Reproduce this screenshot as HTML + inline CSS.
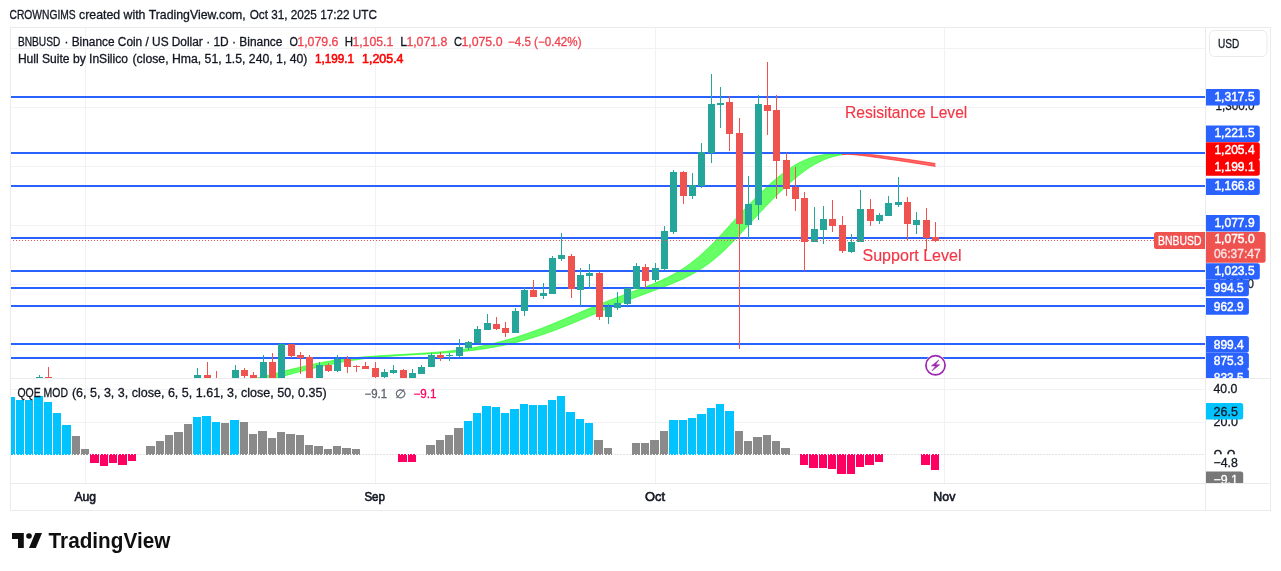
<!DOCTYPE html>
<html><head><meta charset="utf-8">
<style>
html,body{margin:0;padding:0;background:#fff;width:1281px;height:571px;overflow:hidden;}
svg{position:absolute;left:0;top:0;display:block;will-change:transform;}
</style></head><body>
<svg width="1281" height="571" viewBox="0 0 1281 571">
<line x1="85.5" y1="27" x2="85.5" y2="483" stroke="#f2f2f4" stroke-width="1"/>
<defs><clipPath id="pa"><rect x="1206" y="28" width="65" height="350"/></clipPath><clipPath id="pb"><rect x="1206" y="379" width="65" height="104"/></clipPath></defs>
<line x1="375.5" y1="27" x2="375.5" y2="483" stroke="#f2f2f4" stroke-width="1"/>
<line x1="655.5" y1="27" x2="655.5" y2="483" stroke="#f2f2f4" stroke-width="1"/>
<line x1="944.5" y1="27" x2="944.5" y2="483" stroke="#f2f2f4" stroke-width="1"/>
<line x1="10" y1="48.5" x2="1205" y2="48.5" stroke="#f2f2f4" stroke-width="1"/>
<line x1="10" y1="107.5" x2="1205" y2="107.5" stroke="#f2f2f4" stroke-width="1"/>
<line x1="10" y1="166.5" x2="1205" y2="166.5" stroke="#f2f2f4" stroke-width="1"/>
<line x1="10" y1="225.5" x2="1205" y2="225.5" stroke="#f2f2f4" stroke-width="1"/>
<line x1="10" y1="284.5" x2="1205" y2="284.5" stroke="#f2f2f4" stroke-width="1"/>
<line x1="10" y1="343.5" x2="1205" y2="343.5" stroke="#f2f2f4" stroke-width="1"/>
<line x1="10" y1="389.5" x2="1205" y2="389.5" stroke="#f2f2f4" stroke-width="1"/>
<line x1="10" y1="422.5" x2="1205" y2="422.5" stroke="#f2f2f4" stroke-width="1"/>
<defs><clipPath id="mp"><rect x="10" y="27" width="1195" height="351"/></clipPath><clipPath id="qp"><rect x="10" y="379" width="1195" height="104"/></clipPath></defs>
<g clip-path="url(#mp)"><polygon points="250.0,379.93 251.0,379.67 252.0,379.41 253.0,379.15 254.0,378.89 255.0,378.63 256.0,378.37 257.0,378.11 258.0,377.85 259.0,377.59 260.0,377.33 261.0,377.07 262.0,376.81 263.0,376.55 264.0,376.29 265.0,376.03 266.0,375.77 267.0,375.51 268.0,375.25 269.0,374.99 270.0,374.73 271.0,374.47 272.0,374.21 273.0,373.95 274.0,373.70 275.0,373.44 276.0,373.18 277.0,372.92 278.0,372.66 279.0,372.40 280.0,372.14 281.0,371.89 282.0,371.63 283.0,371.37 284.0,371.12 285.0,370.86 286.0,370.61 287.0,370.36 288.0,370.11 289.0,369.85 290.0,369.60 291.0,369.35 292.0,369.11 293.0,368.86 294.0,368.61 295.0,368.37 296.0,368.12 297.0,367.88 298.0,367.64 299.0,367.40 300.0,367.16 301.0,366.93 302.0,366.69 303.0,366.46 304.0,366.23 305.0,366.00 306.0,365.77 307.0,365.55 308.0,365.32 309.0,365.10 310.0,364.88 311.0,364.67 312.0,364.45 313.0,364.24 314.0,364.03 315.0,363.82 316.0,363.61 317.0,363.41 318.0,363.21 319.0,363.01 320.0,362.81 321.0,362.62 322.0,362.43 323.0,362.24 324.0,362.05 325.0,361.87 326.0,361.69 327.0,361.51 328.0,361.34 329.0,361.17 330.0,361.00 331.0,360.83 332.0,360.67 333.0,360.51 334.0,360.35 335.0,360.20 336.0,360.05 337.0,359.90 338.0,359.75 339.0,359.61 340.0,359.47 341.0,359.33 342.0,359.20 343.0,359.07 344.0,358.94 345.0,358.81 346.0,358.69 347.0,358.56 348.0,358.44 349.0,358.33 350.0,358.21 351.0,358.10 352.0,357.99 353.0,357.89 354.0,357.78 355.0,357.68 356.0,357.58 357.0,357.48 358.0,357.39 359.0,357.29 360.0,357.20 361.0,357.11 362.0,357.02 363.0,356.94 364.0,356.85 365.0,356.77 366.0,356.69 367.0,356.61 368.0,356.53 369.0,356.45 370.0,356.38 371.0,356.30 372.0,356.23 373.0,356.16 374.0,356.09 375.0,356.02 376.0,355.95 377.0,355.89 378.0,355.82 379.0,355.75 380.0,355.69 381.0,355.63 382.0,355.56 383.0,355.50 384.0,355.44 385.0,355.38 386.0,355.32 387.0,355.26 388.0,355.20 389.0,355.14 390.0,355.08 391.0,355.03 392.0,354.97 393.0,354.91 394.0,354.85 395.0,354.80 396.0,354.74 397.0,354.68 398.0,354.63 399.0,354.57 400.0,354.51 401.0,354.46 402.0,354.40 403.0,354.34 404.0,354.29 405.0,354.23 406.0,354.18 407.0,354.12 408.0,354.06 409.0,354.00 410.0,353.95 411.0,353.89 412.0,353.83 413.0,353.77 414.0,353.71 415.0,353.65 416.0,353.59 417.0,353.53 418.0,353.47 419.0,353.41 420.0,353.35 421.0,353.28 422.0,353.22 423.0,353.15 424.0,353.09 425.0,353.02 426.0,352.95 427.0,352.89 428.0,352.82 429.0,352.74 430.0,352.67 431.0,352.60 432.0,352.53 433.0,352.45 434.0,352.37 435.0,352.29 436.0,352.21 437.0,352.13 438.0,352.05 439.0,351.96 440.0,351.88 441.0,351.79 442.0,351.70 443.0,351.60 444.0,351.51 445.0,351.41 446.0,351.31 447.0,351.21 448.0,351.11 449.0,351.00 450.0,350.89 451.0,350.78 452.0,350.67 453.0,350.55 454.0,350.43 455.0,350.31 456.0,350.19 457.0,350.06 458.0,349.93 459.0,349.80 460.0,349.66 461.0,349.52 462.0,349.38 463.0,349.24 464.0,349.09 465.0,348.94 466.0,348.79 467.0,348.63 468.0,348.47 469.0,348.31 470.0,348.15 471.0,347.98 472.0,347.81 473.0,347.63 474.0,347.46 475.0,347.27 476.0,347.09 477.0,346.90 478.0,346.71 479.0,346.52 480.0,346.32 481.0,346.12 482.0,345.92 483.0,345.72 484.0,345.51 485.0,345.30 486.0,345.08 487.0,344.86 488.0,344.64 489.0,344.42 490.0,344.19 491.0,343.96 492.0,343.72 493.0,343.49 494.0,343.25 495.0,343.00 496.0,342.76 497.0,342.51 498.0,342.25 499.0,342.00 500.0,341.74 501.0,341.48 502.0,341.21 503.0,340.94 504.0,340.67 505.0,340.40 506.0,340.12 507.0,339.84 508.0,339.55 509.0,339.27 510.0,338.98 511.0,338.68 512.0,338.39 513.0,338.09 514.0,337.78 515.0,337.48 516.0,337.17 517.0,336.85 518.0,336.54 519.0,336.22 520.0,335.90 521.0,335.57 522.0,335.24 523.0,334.91 524.0,334.58 525.0,334.24 526.0,333.90 527.0,333.56 528.0,333.21 529.0,332.86 530.0,332.51 531.0,332.15 532.0,331.79 533.0,331.43 534.0,331.07 535.0,330.70 536.0,330.33 537.0,329.96 538.0,329.58 539.0,329.21 540.0,328.83 541.0,328.44 542.0,328.06 543.0,327.67 544.0,327.28 545.0,326.88 546.0,326.49 547.0,326.09 548.0,325.69 549.0,325.29 550.0,324.89 551.0,324.48 552.0,324.07 553.0,323.66 554.0,323.25 555.0,322.84 556.0,322.43 557.0,322.01 558.0,321.59 559.0,321.17 560.0,320.76 561.0,320.33 562.0,319.91 563.0,319.49 564.0,319.07 565.0,318.65 566.0,318.22 567.0,317.80 568.0,317.37 569.0,316.95 570.0,316.52 571.0,316.10 572.0,315.68 573.0,315.25 574.0,314.83 575.0,314.40 576.0,313.98 577.0,313.56 578.0,313.13 579.0,312.71 580.0,312.29 581.0,311.87 582.0,311.45 583.0,311.03 584.0,310.62 585.0,310.20 586.0,309.78 587.0,309.37 588.0,308.96 589.0,308.54 590.0,308.13 591.0,307.72 592.0,307.31 593.0,306.90 594.0,306.50 595.0,306.09 596.0,305.69 597.0,305.28 598.0,304.88 599.0,304.48 600.0,304.08 601.0,303.68 602.0,303.28 603.0,302.89 604.0,302.49 605.0,302.10 606.0,301.70 607.0,301.31 608.0,300.92 609.0,300.53 610.0,300.14 611.0,299.76 612.0,299.37 613.0,298.98 614.0,298.60 615.0,298.22 616.0,297.83 617.0,297.45 618.0,297.07 619.0,296.69 620.0,296.32 621.0,295.94 622.0,295.56 623.0,295.19 624.0,294.81 625.0,294.44 626.0,294.06 627.0,293.69 628.0,293.32 629.0,292.95 630.0,292.58 631.0,292.20 632.0,291.83 633.0,291.46 634.0,291.09 635.0,290.72 636.0,290.35 637.0,289.98 638.0,289.61 639.0,289.24 640.0,288.87 641.0,288.49 642.0,288.12 643.0,287.74 644.0,287.37 645.0,286.99 646.0,286.60 647.0,286.22 648.0,285.83 649.0,285.45 650.0,285.05 651.0,284.66 652.0,284.26 653.0,283.86 654.0,283.45 655.0,283.04 656.0,282.62 657.0,282.20 658.0,281.77 659.0,281.34 660.0,280.90 661.0,280.46 662.0,280.01 663.0,279.55 664.0,279.08 665.0,278.61 666.0,278.13 667.0,277.64 668.0,277.14 669.0,276.63 670.0,276.12 671.0,275.60 672.0,275.06 673.0,274.52 674.0,273.97 675.0,273.41 676.0,272.83 677.0,272.25 678.0,271.66 679.0,271.05 680.0,270.44 681.0,269.81 682.0,269.17 683.0,268.52 684.0,267.86 685.0,267.19 686.0,266.50 687.0,265.80 688.0,265.09 689.0,264.37 690.0,263.63 691.0,262.89 692.0,262.12 693.0,261.35 694.0,260.56 695.0,259.76 696.0,258.94 697.0,258.11 698.0,257.27 699.0,256.42 700.0,255.55 701.0,254.67 702.0,253.78 703.0,252.87 704.0,251.95 705.0,251.02 706.0,250.08 707.0,249.12 708.0,248.15 709.0,247.18 710.0,246.19 711.0,245.19 712.0,244.18 713.0,243.16 714.0,242.14 715.0,241.10 716.0,240.06 717.0,239.01 718.0,237.95 719.0,236.89 720.0,235.82 721.0,234.75 722.0,233.67 723.0,232.59 724.0,231.50 725.0,230.41 726.0,229.32 727.0,228.23 728.0,227.13 729.0,226.04 730.0,224.94 731.0,223.85 732.0,222.75 733.0,221.66 734.0,220.56 735.0,219.47 736.0,218.39 737.0,217.30 738.0,216.22 739.0,215.14 740.0,214.06 741.0,212.98 742.0,211.91 743.0,210.85 744.0,209.78 745.0,208.72 746.0,207.67 747.0,206.62 748.0,205.57 749.0,204.53 750.0,203.50 751.0,202.47 752.0,201.45 753.0,200.43 754.0,199.41 755.0,198.40 756.0,197.40 757.0,196.40 758.0,195.41 759.0,194.42 760.0,193.44 761.0,192.47 762.0,191.50 763.0,190.54 764.0,189.58 765.0,188.63 766.0,187.69 767.0,186.76 768.0,185.83 769.0,184.92 770.0,184.01 771.0,183.11 772.0,182.22 773.0,181.34 774.0,180.47 775.0,179.61 776.0,178.76 777.0,177.92 778.0,177.10 779.0,176.28 780.0,175.48 781.0,174.69 782.0,173.91 783.0,173.14 784.0,172.39 785.0,171.65 786.0,170.93 787.0,170.21 788.0,169.52 789.0,168.84 790.0,168.17 791.0,167.52 792.0,166.88 793.0,166.26 794.0,165.65 795.0,165.06 796.0,164.48 797.0,163.92 798.0,163.37 799.0,162.84 800.0,162.33 801.0,161.83 802.0,161.35 803.0,160.88 804.0,160.43 805.0,160.00 806.0,159.58 807.0,159.18 808.0,158.79 809.0,158.42 810.0,158.06 811.0,157.72 812.0,157.40 813.0,157.09 814.0,156.79 815.0,156.51 816.0,156.25 817.0,156.00 818.0,155.77 819.0,155.55 820.0,155.35 821.0,155.15 822.0,154.98 823.0,154.81 824.0,154.67 825.0,154.53 826.0,154.40 827.0,154.29 828.0,154.19 829.0,154.11 830.0,154.03 831.0,153.96 832.0,153.91 833.0,153.87 834.0,153.84 835.0,153.81 836.0,153.80 837.0,153.79 838.0,153.80 839.0,153.81 840.0,153.83 841.0,153.86 842.0,153.89 842.0,154.76 841.0,154.92 840.0,155.10 839.0,155.28 838.0,155.48 837.0,155.70 836.0,155.93 835.0,156.17 834.0,156.43 833.0,156.70 832.0,156.99 831.0,157.30 830.0,157.61 829.0,157.95 828.0,158.30 827.0,158.67 826.0,159.05 825.0,159.45 824.0,159.86 823.0,160.29 822.0,160.74 821.0,161.20 820.0,161.67 819.0,162.17 818.0,162.68 817.0,163.20 816.0,163.74 815.0,164.30 814.0,164.87 813.0,165.45 812.0,166.06 811.0,166.67 810.0,167.31 809.0,167.95 808.0,168.62 807.0,169.29 806.0,169.99 805.0,170.69 804.0,171.41 803.0,172.15 802.0,172.90 801.0,173.66 800.0,174.43 799.0,175.22 798.0,176.02 797.0,176.83 796.0,177.65 795.0,178.49 794.0,179.33 793.0,180.19 792.0,181.06 791.0,181.93 790.0,182.82 789.0,183.72 788.0,184.62 787.0,185.53 786.0,186.46 785.0,187.39 784.0,188.32 783.0,189.27 782.0,190.22 781.0,191.18 780.0,192.15 779.0,193.12 778.0,194.10 777.0,195.09 776.0,196.08 775.0,197.07 774.0,198.08 773.0,199.08 772.0,200.10 771.0,201.11 770.0,202.14 769.0,203.16 768.0,204.20 767.0,205.24 766.0,206.28 765.0,207.33 764.0,208.38 763.0,209.44 762.0,210.50 761.0,211.57 760.0,212.64 759.0,213.71 758.0,214.78 757.0,215.86 756.0,216.95 755.0,218.03 754.0,219.12 753.0,220.21 752.0,221.30 751.0,222.39 750.0,223.49 749.0,224.58 748.0,225.68 747.0,226.78 746.0,227.87 745.0,228.97 744.0,230.06 743.0,231.15 742.0,232.24 741.0,233.32 740.0,234.40 739.0,235.47 738.0,236.54 737.0,237.61 736.0,238.67 735.0,239.72 734.0,240.76 733.0,241.80 732.0,242.83 731.0,243.85 730.0,244.86 729.0,245.86 728.0,246.86 727.0,247.84 726.0,248.81 725.0,249.77 724.0,250.72 723.0,251.65 722.0,252.57 721.0,253.48 720.0,254.38 719.0,255.27 718.0,256.14 717.0,257.00 716.0,257.84 715.0,258.67 714.0,259.49 713.0,260.30 712.0,261.09 711.0,261.87 710.0,262.64 709.0,263.39 708.0,264.13 707.0,264.86 706.0,265.58 705.0,266.28 704.0,266.97 703.0,267.64 702.0,268.31 701.0,268.96 700.0,269.60 699.0,270.23 698.0,270.85 697.0,271.46 696.0,272.06 695.0,272.64 694.0,273.22 693.0,273.79 692.0,274.34 691.0,274.89 690.0,275.42 689.0,275.95 688.0,276.47 687.0,276.98 686.0,277.48 685.0,277.97 684.0,278.45 683.0,278.93 682.0,279.40 681.0,279.86 680.0,280.31 679.0,280.76 678.0,281.20 677.0,281.63 676.0,282.06 675.0,282.49 674.0,282.90 673.0,283.32 672.0,283.73 671.0,284.13 670.0,284.53 669.0,284.93 668.0,285.32 667.0,285.71 666.0,286.10 665.0,286.48 664.0,286.86 663.0,287.24 662.0,287.62 661.0,288.00 660.0,288.37 659.0,288.75 658.0,289.12 657.0,289.49 656.0,289.86 655.0,290.23 654.0,290.60 653.0,290.97 652.0,291.34 651.0,291.71 650.0,292.08 649.0,292.46 648.0,292.83 647.0,293.20 646.0,293.57 645.0,293.94 644.0,294.32 643.0,294.69 642.0,295.06 641.0,295.44 640.0,295.82 639.0,296.19 638.0,296.57 637.0,296.95 636.0,297.33 635.0,297.71 634.0,298.09 633.0,298.48 632.0,298.86 631.0,299.24 630.0,299.63 629.0,300.02 628.0,300.41 627.0,300.79 626.0,301.18 625.0,301.58 624.0,301.97 623.0,302.36 622.0,302.76 621.0,303.15 620.0,303.55 619.0,303.95 618.0,304.35 617.0,304.75 616.0,305.15 615.0,305.56 614.0,305.96 613.0,306.36 612.0,306.77 611.0,307.18 610.0,307.59 609.0,308.00 608.0,308.41 607.0,308.82 606.0,309.24 605.0,309.65 604.0,310.06 603.0,310.48 602.0,310.90 601.0,311.32 600.0,311.74 599.0,312.16 598.0,312.58 597.0,313.00 596.0,313.42 595.0,313.84 594.0,314.27 593.0,314.69 592.0,315.11 591.0,315.54 590.0,315.96 589.0,316.39 588.0,316.81 587.0,317.24 586.0,317.66 585.0,318.08 584.0,318.51 583.0,318.93 582.0,319.35 581.0,319.78 580.0,320.20 579.0,320.62 578.0,321.04 577.0,321.46 576.0,321.87 575.0,322.29 574.0,322.70 573.0,323.12 572.0,323.53 571.0,323.94 570.0,324.35 569.0,324.75 568.0,325.16 567.0,325.56 566.0,325.96 565.0,326.36 564.0,326.76 563.0,327.15 562.0,327.54 561.0,327.93 560.0,328.32 559.0,328.70 558.0,329.08 557.0,329.46 556.0,329.84 555.0,330.21 554.0,330.58 553.0,330.95 552.0,331.32 551.0,331.68 550.0,332.04 549.0,332.39 548.0,332.75 547.0,333.10 546.0,333.44 545.0,333.79 544.0,334.13 543.0,334.47 542.0,334.80 541.0,335.14 540.0,335.47 539.0,335.79 538.0,336.12 537.0,336.44 536.0,336.75 535.0,337.07 534.0,337.38 533.0,337.68 532.0,337.99 531.0,338.29 530.0,338.59 529.0,338.88 528.0,339.17 527.0,339.46 526.0,339.75 525.0,340.03 524.0,340.31 523.0,340.58 522.0,340.86 521.0,341.12 520.0,341.39 519.0,341.65 518.0,341.91 517.0,342.17 516.0,342.42 515.0,342.68 514.0,342.92 513.0,343.17 512.0,343.41 511.0,343.65 510.0,343.88 509.0,344.11 508.0,344.34 507.0,344.57 506.0,344.79 505.0,345.01 504.0,345.23 503.0,345.44 502.0,345.65 501.0,345.86 500.0,346.06 499.0,346.26 498.0,346.46 497.0,346.65 496.0,346.84 495.0,347.03 494.0,347.22 493.0,347.40 492.0,347.58 491.0,347.75 490.0,347.92 489.0,348.09 488.0,348.26 487.0,348.42 486.0,348.58 485.0,348.74 484.0,348.89 483.0,349.04 482.0,349.19 481.0,349.34 480.0,349.48 479.0,349.62 478.0,349.75 477.0,349.89 476.0,350.02 475.0,350.14 474.0,350.27 473.0,350.39 472.0,350.51 471.0,350.63 470.0,350.74 469.0,350.86 468.0,350.96 467.0,351.07 466.0,351.18 465.0,351.28 464.0,351.38 463.0,351.48 462.0,351.57 461.0,351.67 460.0,351.76 459.0,351.85 458.0,351.93 457.0,352.02 456.0,352.10 455.0,352.19 454.0,352.27 453.0,352.35 452.0,352.42 451.0,352.50 450.0,352.58 449.0,352.65 448.0,352.72 447.0,352.79 446.0,352.86 445.0,352.93 444.0,353.00 443.0,353.07 442.0,353.13 441.0,353.20 440.0,353.26 439.0,353.32 438.0,353.39 437.0,353.45 436.0,353.51 435.0,353.57 434.0,353.63 433.0,353.69 432.0,353.75 431.0,353.81 430.0,353.87 429.0,353.93 428.0,353.98 427.0,354.04 426.0,354.10 425.0,354.16 424.0,354.21 423.0,354.27 422.0,354.33 421.0,354.38 420.0,354.44 419.0,354.50 418.0,354.55 417.0,354.61 416.0,354.66 415.0,354.72 414.0,354.78 413.0,354.83 412.0,354.89 411.0,354.95 410.0,355.01 409.0,355.06 408.0,355.12 407.0,355.18 406.0,355.24 405.0,355.30 404.0,355.36 403.0,355.42 402.0,355.48 401.0,355.54 400.0,355.61 399.0,355.67 398.0,355.73 397.0,355.80 396.0,355.86 395.0,355.93 394.0,356.00 393.0,356.07 392.0,356.14 391.0,356.21 390.0,356.28 389.0,356.35 388.0,356.43 387.0,356.51 386.0,356.58 385.0,356.66 384.0,356.74 383.0,356.83 382.0,356.91 381.0,356.99 380.0,357.08 379.0,357.17 378.0,357.26 377.0,357.36 376.0,357.45 375.0,357.55 374.0,357.65 373.0,357.75 372.0,357.85 371.0,357.96 370.0,358.07 369.0,358.18 368.0,358.29 367.0,358.41 366.0,358.52 365.0,358.65 364.0,358.77 363.0,358.89 362.0,359.02 361.0,359.15 360.0,359.29 359.0,359.43 358.0,359.56 357.0,359.71 356.0,359.85 355.0,360.00 354.0,360.15 353.0,360.30 352.0,360.46 351.0,360.62 350.0,360.78 349.0,360.95 348.0,361.11 347.0,361.28 346.0,361.46 345.0,361.63 344.0,361.81 343.0,361.99 342.0,362.18 341.0,362.37 340.0,362.56 339.0,362.75 338.0,362.94 337.0,363.14 336.0,363.34 335.0,363.55 334.0,363.75 333.0,363.96 332.0,364.17 331.0,364.38 330.0,364.60 329.0,364.81 328.0,365.03 327.0,365.25 326.0,365.47 325.0,365.70 324.0,365.93 323.0,366.15 322.0,366.38 321.0,366.62 320.0,366.85 319.0,367.09 318.0,367.32 317.0,367.56 316.0,367.80 315.0,368.04 314.0,368.29 313.0,368.53 312.0,368.78 311.0,369.02 310.0,369.27 309.0,369.52 308.0,369.77 307.0,370.02 306.0,370.28 305.0,370.53 304.0,370.78 303.0,371.04 302.0,371.29 301.0,371.55 300.0,371.80 299.0,372.06 298.0,372.32 297.0,372.58 296.0,372.83 295.0,373.09 294.0,373.35 293.0,373.61 292.0,373.87 291.0,374.13 290.0,374.39 289.0,374.65 288.0,374.91 287.0,375.17 286.0,375.43 285.0,375.69 284.0,375.95 283.0,376.21 282.0,376.47 281.0,376.73 280.0,376.99 279.0,377.25 278.0,377.51 277.0,377.77 276.0,378.03 275.0,378.29 274.0,378.55 273.0,378.81 272.0,379.07 271.0,379.33 270.0,379.58 269.0,379.84 268.0,380.10 267.0,380.36 266.0,380.62 265.0,380.88 264.0,381.14 263.0,381.40 262.0,381.66 261.0,381.92 260.0,382.18 259.0,382.44 258.0,382.70 257.0,382.96 256.0,383.22 255.0,383.48 254.0,383.74 253.0,383.99 252.0,384.25 251.0,384.51 250.0,384.77" fill="#66ff66"/><polygon points="842.0,154.76 843.0,154.62 844.0,154.49 845.0,154.37 846.0,154.26 847.0,154.16 848.0,154.08 849.0,154.01 850.0,153.95 851.0,153.90 852.0,153.86 853.0,153.83 854.0,153.81 855.0,153.80 856.0,153.79 857.0,153.80 858.0,153.82 859.0,153.84 860.0,153.87 861.0,153.91 862.0,153.95 863.0,154.00 864.0,154.05 865.0,154.11 866.0,154.18 867.0,154.25 868.0,154.32 869.0,154.41 870.0,154.49 871.0,154.58 872.0,154.67 873.0,154.77 874.0,154.87 875.0,154.97 876.0,155.08 877.0,155.19 878.0,155.30 879.0,155.41 880.0,155.53 881.0,155.65 882.0,155.77 883.0,155.89 884.0,156.02 885.0,156.14 886.0,156.27 887.0,156.40 888.0,156.53 889.0,156.67 890.0,156.80 891.0,156.93 892.0,157.07 893.0,157.21 894.0,157.34 895.0,157.48 896.0,157.62 897.0,157.76 898.0,157.90 899.0,158.04 900.0,158.19 901.0,158.33 902.0,158.47 903.0,158.61 904.0,158.76 905.0,158.90 906.0,159.04 907.0,159.19 908.0,159.33 909.0,159.48 910.0,159.62 911.0,159.77 912.0,159.91 913.0,160.06 914.0,160.21 915.0,160.35 916.0,160.50 917.0,160.65 918.0,160.80 919.0,160.95 920.0,161.10 921.0,161.25 922.0,161.40 923.0,161.55 924.0,161.70 925.0,161.85 926.0,162.00 927.0,162.15 928.0,162.31 929.0,162.46 930.0,162.62 931.0,162.77 932.0,162.93 933.0,163.08 934.0,163.24 935.0,163.40 935.4,163.46 935.4,166.49 935.0,166.42 934.0,166.26 933.0,166.09 932.0,165.93 931.0,165.76 930.0,165.60 929.0,165.44 928.0,165.27 927.0,165.11 926.0,164.95 925.0,164.79 924.0,164.62 923.0,164.46 922.0,164.30 921.0,164.14 920.0,163.98 919.0,163.82 918.0,163.66 917.0,163.50 916.0,163.35 915.0,163.19 914.0,163.03 913.0,162.88 912.0,162.72 911.0,162.57 910.0,162.41 909.0,162.26 908.0,162.10 907.0,161.95 906.0,161.80 905.0,161.65 904.0,161.50 903.0,161.35 902.0,161.20 901.0,161.05 900.0,160.90 899.0,160.75 898.0,160.60 897.0,160.45 896.0,160.31 895.0,160.16 894.0,160.01 893.0,159.87 892.0,159.72 891.0,159.58 890.0,159.43 889.0,159.29 888.0,159.14 887.0,159.00 886.0,158.85 885.0,158.71 884.0,158.57 883.0,158.42 882.0,158.28 881.0,158.14 880.0,158.00 879.0,157.86 878.0,157.72 877.0,157.58 876.0,157.44 875.0,157.30 874.0,157.16 873.0,157.03 872.0,156.89 871.0,156.76 870.0,156.62 869.0,156.49 868.0,156.36 867.0,156.23 866.0,156.10 865.0,155.98 864.0,155.85 863.0,155.73 862.0,155.61 861.0,155.49 860.0,155.37 859.0,155.26 858.0,155.15 857.0,155.04 856.0,154.94 855.0,154.83 854.0,154.74 853.0,154.64 852.0,154.55 851.0,154.46 850.0,154.38 849.0,154.30 848.0,154.23 847.0,154.16 846.0,154.09 845.0,154.03 844.0,153.98 843.0,153.93 842.0,153.89" fill="#ff6666"/><polyline points="250.0,379.93 251.0,379.67 252.0,379.41 253.0,379.15 254.0,378.89 255.0,378.63 256.0,378.37 257.0,378.11 258.0,377.85 259.0,377.59 260.0,377.33 261.0,377.07 262.0,376.81 263.0,376.55 264.0,376.29 265.0,376.03 266.0,375.77 267.0,375.51 268.0,375.25 269.0,374.99 270.0,374.73 271.0,374.47 272.0,374.21 273.0,373.95 274.0,373.70 275.0,373.44 276.0,373.18 277.0,372.92 278.0,372.66 279.0,372.40 280.0,372.14 281.0,371.89 282.0,371.63 283.0,371.37 284.0,371.12 285.0,370.86 286.0,370.61 287.0,370.36 288.0,370.11 289.0,369.85 290.0,369.60 291.0,369.35 292.0,369.11 293.0,368.86 294.0,368.61 295.0,368.37 296.0,368.12 297.0,367.88 298.0,367.64 299.0,367.40 300.0,367.16 301.0,366.93 302.0,366.69 303.0,366.46 304.0,366.23 305.0,366.00 306.0,365.77 307.0,365.55 308.0,365.32 309.0,365.10 310.0,364.88 311.0,364.67 312.0,364.45 313.0,364.24 314.0,364.03 315.0,363.82 316.0,363.61 317.0,363.41 318.0,363.21 319.0,363.01 320.0,362.81 321.0,362.62 322.0,362.43 323.0,362.24 324.0,362.05 325.0,361.87 326.0,361.69 327.0,361.51 328.0,361.34 329.0,361.17 330.0,361.00 331.0,360.83 332.0,360.67 333.0,360.51 334.0,360.35 335.0,360.20 336.0,360.05 337.0,359.90 338.0,359.75 339.0,359.61 340.0,359.47 341.0,359.33 342.0,359.20 343.0,359.07 344.0,358.94 345.0,358.81 346.0,358.69 347.0,358.56 348.0,358.44 349.0,358.33 350.0,358.21 351.0,358.10 352.0,357.99 353.0,357.89 354.0,357.78 355.0,357.68 356.0,357.58 357.0,357.48 358.0,357.39 359.0,357.29 360.0,357.20 361.0,357.11 362.0,357.02 363.0,356.94 364.0,356.85 365.0,356.77 366.0,356.69 367.0,356.61 368.0,356.53 369.0,356.45 370.0,356.38 371.0,356.30 372.0,356.23 373.0,356.16 374.0,356.09 375.0,356.02 376.0,355.95 377.0,355.89 378.0,355.82 379.0,355.75 380.0,355.69 381.0,355.63 382.0,355.56 383.0,355.50 384.0,355.44 385.0,355.38 386.0,355.32 387.0,355.26 388.0,355.20 389.0,355.14 390.0,355.08 391.0,355.03 392.0,354.97 393.0,354.91 394.0,354.85 395.0,354.80 396.0,354.74 397.0,354.68 398.0,354.63 399.0,354.57 400.0,354.51 401.0,354.46 402.0,354.40 403.0,354.34 404.0,354.29 405.0,354.23 406.0,354.18 407.0,354.12 408.0,354.06 409.0,354.00 410.0,353.95 411.0,353.89 412.0,353.83 413.0,353.77 414.0,353.71 415.0,353.65 416.0,353.59 417.0,353.53 418.0,353.47 419.0,353.41 420.0,353.35 421.0,353.28 422.0,353.22 423.0,353.15 424.0,353.09 425.0,353.02 426.0,352.95 427.0,352.89 428.0,352.82 429.0,352.74 430.0,352.67 431.0,352.60 432.0,352.53 433.0,352.45 434.0,352.37 435.0,352.29 436.0,352.21 437.0,352.13 438.0,352.05 439.0,351.96 440.0,351.88 441.0,351.79 442.0,351.70 443.0,351.60 444.0,351.51 445.0,351.41 446.0,351.31 447.0,351.21 448.0,351.11 449.0,351.00 450.0,350.89 451.0,350.78 452.0,350.67 453.0,350.55 454.0,350.43 455.0,350.31 456.0,350.19 457.0,350.06 458.0,349.93 459.0,349.80 460.0,349.66 461.0,349.52 462.0,349.38 463.0,349.24 464.0,349.09 465.0,348.94 466.0,348.79 467.0,348.63 468.0,348.47 469.0,348.31 470.0,348.15 471.0,347.98 472.0,347.81 473.0,347.63 474.0,347.46 475.0,347.27 476.0,347.09 477.0,346.90 478.0,346.71 479.0,346.52 480.0,346.32 481.0,346.12 482.0,345.92 483.0,345.72 484.0,345.51 485.0,345.30 486.0,345.08 487.0,344.86 488.0,344.64 489.0,344.42 490.0,344.19 491.0,343.96 492.0,343.72 493.0,343.49 494.0,343.25 495.0,343.00 496.0,342.76 497.0,342.51 498.0,342.25 499.0,342.00 500.0,341.74 501.0,341.48 502.0,341.21 503.0,340.94 504.0,340.67 505.0,340.40 506.0,340.12 507.0,339.84 508.0,339.55 509.0,339.27 510.0,338.98 511.0,338.68 512.0,338.39 513.0,338.09 514.0,337.78 515.0,337.48 516.0,337.17 517.0,336.85 518.0,336.54 519.0,336.22 520.0,335.90 521.0,335.57 522.0,335.24 523.0,334.91 524.0,334.58 525.0,334.24 526.0,333.90 527.0,333.56 528.0,333.21 529.0,332.86 530.0,332.51 531.0,332.15 532.0,331.79 533.0,331.43 534.0,331.07 535.0,330.70 536.0,330.33 537.0,329.96 538.0,329.58 539.0,329.21 540.0,328.83 541.0,328.44 542.0,328.06 543.0,327.67 544.0,327.28 545.0,326.88 546.0,326.49 547.0,326.09 548.0,325.69 549.0,325.29 550.0,324.89 551.0,324.48 552.0,324.07 553.0,323.66 554.0,323.25 555.0,322.84 556.0,322.43 557.0,322.01 558.0,321.59 559.0,321.17 560.0,320.76 561.0,320.33 562.0,319.91 563.0,319.49 564.0,319.07 565.0,318.65 566.0,318.22 567.0,317.80 568.0,317.37 569.0,316.95 570.0,316.52 571.0,316.10 572.0,315.68 573.0,315.25 574.0,314.83 575.0,314.40 576.0,313.98 577.0,313.56 578.0,313.13 579.0,312.71 580.0,312.29 581.0,311.87 582.0,311.45 583.0,311.03 584.0,310.62 585.0,310.20 586.0,309.78 587.0,309.37 588.0,308.96 589.0,308.54 590.0,308.13 591.0,307.72 592.0,307.31 593.0,306.90 594.0,306.50 595.0,306.09 596.0,305.69 597.0,305.28 598.0,304.88 599.0,304.48 600.0,304.08 601.0,303.68 602.0,303.28 603.0,302.89 604.0,302.49 605.0,302.10 606.0,301.70 607.0,301.31 608.0,300.92 609.0,300.53 610.0,300.14 611.0,299.76 612.0,299.37 613.0,298.98 614.0,298.60 615.0,298.22 616.0,297.83 617.0,297.45 618.0,297.07 619.0,296.69 620.0,296.32 621.0,295.94 622.0,295.56 623.0,295.19 624.0,294.81 625.0,294.44 626.0,294.06 627.0,293.69 628.0,293.32 629.0,292.95 630.0,292.58 631.0,292.20 632.0,291.83 633.0,291.46 634.0,291.09 635.0,290.72 636.0,290.35 637.0,289.98 638.0,289.61 639.0,289.24 640.0,288.87 641.0,288.49 642.0,288.12 643.0,287.74 644.0,287.37 645.0,286.99 646.0,286.60 647.0,286.22 648.0,285.83 649.0,285.45 650.0,285.05 651.0,284.66 652.0,284.26 653.0,283.86 654.0,283.45 655.0,283.04 656.0,282.62 657.0,282.20 658.0,281.77 659.0,281.34 660.0,280.90 661.0,280.46 662.0,280.01 663.0,279.55 664.0,279.08 665.0,278.61 666.0,278.13 667.0,277.64 668.0,277.14 669.0,276.63 670.0,276.12 671.0,275.60 672.0,275.06 673.0,274.52 674.0,273.97 675.0,273.41 676.0,272.83 677.0,272.25 678.0,271.66 679.0,271.05 680.0,270.44 681.0,269.81 682.0,269.17 683.0,268.52 684.0,267.86 685.0,267.19 686.0,266.50 687.0,265.80 688.0,265.09 689.0,264.37 690.0,263.63 691.0,262.89 692.0,262.12 693.0,261.35 694.0,260.56 695.0,259.76 696.0,258.94 697.0,258.11 698.0,257.27 699.0,256.42 700.0,255.55 701.0,254.67 702.0,253.78 703.0,252.87 704.0,251.95 705.0,251.02 706.0,250.08 707.0,249.12 708.0,248.15 709.0,247.18 710.0,246.19 711.0,245.19 712.0,244.18 713.0,243.16 714.0,242.14 715.0,241.10 716.0,240.06 717.0,239.01 718.0,237.95 719.0,236.89 720.0,235.82 721.0,234.75 722.0,233.67 723.0,232.59 724.0,231.50 725.0,230.41 726.0,229.32 727.0,228.23 728.0,227.13 729.0,226.04 730.0,224.94 731.0,223.85 732.0,222.75 733.0,221.66 734.0,220.56 735.0,219.47 736.0,218.39 737.0,217.30 738.0,216.22 739.0,215.14 740.0,214.06 741.0,212.98 742.0,211.91 743.0,210.85 744.0,209.78 745.0,208.72 746.0,207.67 747.0,206.62 748.0,205.57 749.0,204.53 750.0,203.50 751.0,202.47 752.0,201.45 753.0,200.43 754.0,199.41 755.0,198.40 756.0,197.40 757.0,196.40 758.0,195.41 759.0,194.42 760.0,193.44 761.0,192.47 762.0,191.50 763.0,190.54 764.0,189.58 765.0,188.63 766.0,187.69 767.0,186.76 768.0,185.83 769.0,184.92 770.0,184.01 771.0,183.11 772.0,182.22 773.0,181.34 774.0,180.47 775.0,179.61 776.0,178.76 777.0,177.92 778.0,177.10 779.0,176.28 780.0,175.48 781.0,174.69 782.0,173.91 783.0,173.14 784.0,172.39 785.0,171.65 786.0,170.93 787.0,170.21 788.0,169.52 789.0,168.84 790.0,168.17 791.0,167.52 792.0,166.88 793.0,166.26 794.0,165.65 795.0,165.06 796.0,164.48 797.0,163.92 798.0,163.37 799.0,162.84 800.0,162.33 801.0,161.83 802.0,161.35 803.0,160.88 804.0,160.43 805.0,160.00 806.0,159.58 807.0,159.18 808.0,158.79 809.0,158.42 810.0,158.06 811.0,157.72 812.0,157.40 813.0,157.09 814.0,156.79 815.0,156.51 816.0,156.25 817.0,156.00 818.0,155.77 819.0,155.55 820.0,155.35 821.0,155.15 822.0,154.98 823.0,154.81 824.0,154.67 825.0,154.53 826.0,154.40 827.0,154.29 828.0,154.19 829.0,154.11 830.0,154.03 831.0,153.96 832.0,153.91 833.0,153.87 834.0,153.84 835.0,153.81 836.0,153.80 837.0,153.79 838.0,153.80 839.0,153.81 840.0,153.83 841.0,153.86 842.0,153.89" fill="none" stroke="#00ff00" stroke-width="1" stroke-opacity="0.5"/><polyline points="250.0,384.77 251.0,384.51 252.0,384.25 253.0,383.99 254.0,383.74 255.0,383.48 256.0,383.22 257.0,382.96 258.0,382.70 259.0,382.44 260.0,382.18 261.0,381.92 262.0,381.66 263.0,381.40 264.0,381.14 265.0,380.88 266.0,380.62 267.0,380.36 268.0,380.10 269.0,379.84 270.0,379.58 271.0,379.33 272.0,379.07 273.0,378.81 274.0,378.55 275.0,378.29 276.0,378.03 277.0,377.77 278.0,377.51 279.0,377.25 280.0,376.99 281.0,376.73 282.0,376.47 283.0,376.21 284.0,375.95 285.0,375.69 286.0,375.43 287.0,375.17 288.0,374.91 289.0,374.65 290.0,374.39 291.0,374.13 292.0,373.87 293.0,373.61 294.0,373.35 295.0,373.09 296.0,372.83 297.0,372.58 298.0,372.32 299.0,372.06 300.0,371.80 301.0,371.55 302.0,371.29 303.0,371.04 304.0,370.78 305.0,370.53 306.0,370.28 307.0,370.02 308.0,369.77 309.0,369.52 310.0,369.27 311.0,369.02 312.0,368.78 313.0,368.53 314.0,368.29 315.0,368.04 316.0,367.80 317.0,367.56 318.0,367.32 319.0,367.09 320.0,366.85 321.0,366.62 322.0,366.38 323.0,366.15 324.0,365.93 325.0,365.70 326.0,365.47 327.0,365.25 328.0,365.03 329.0,364.81 330.0,364.60 331.0,364.38 332.0,364.17 333.0,363.96 334.0,363.75 335.0,363.55 336.0,363.34 337.0,363.14 338.0,362.94 339.0,362.75 340.0,362.56 341.0,362.37 342.0,362.18 343.0,361.99 344.0,361.81 345.0,361.63 346.0,361.46 347.0,361.28 348.0,361.11 349.0,360.95 350.0,360.78 351.0,360.62 352.0,360.46 353.0,360.30 354.0,360.15 355.0,360.00 356.0,359.85 357.0,359.71 358.0,359.56 359.0,359.43 360.0,359.29 361.0,359.15 362.0,359.02 363.0,358.89 364.0,358.77 365.0,358.65 366.0,358.52 367.0,358.41 368.0,358.29 369.0,358.18 370.0,358.07 371.0,357.96 372.0,357.85 373.0,357.75 374.0,357.65 375.0,357.55 376.0,357.45 377.0,357.36 378.0,357.26 379.0,357.17 380.0,357.08 381.0,356.99 382.0,356.91 383.0,356.83 384.0,356.74 385.0,356.66 386.0,356.58 387.0,356.51 388.0,356.43 389.0,356.35 390.0,356.28 391.0,356.21 392.0,356.14 393.0,356.07 394.0,356.00 395.0,355.93 396.0,355.86 397.0,355.80 398.0,355.73 399.0,355.67 400.0,355.61 401.0,355.54 402.0,355.48 403.0,355.42 404.0,355.36 405.0,355.30 406.0,355.24 407.0,355.18 408.0,355.12 409.0,355.06 410.0,355.01 411.0,354.95 412.0,354.89 413.0,354.83 414.0,354.78 415.0,354.72 416.0,354.66 417.0,354.61 418.0,354.55 419.0,354.50 420.0,354.44 421.0,354.38 422.0,354.33 423.0,354.27 424.0,354.21 425.0,354.16 426.0,354.10 427.0,354.04 428.0,353.98 429.0,353.93 430.0,353.87 431.0,353.81 432.0,353.75 433.0,353.69 434.0,353.63 435.0,353.57 436.0,353.51 437.0,353.45 438.0,353.39 439.0,353.32 440.0,353.26 441.0,353.20 442.0,353.13 443.0,353.07 444.0,353.00 445.0,352.93 446.0,352.86 447.0,352.79 448.0,352.72 449.0,352.65 450.0,352.58 451.0,352.50 452.0,352.42 453.0,352.35 454.0,352.27 455.0,352.19 456.0,352.10 457.0,352.02 458.0,351.93 459.0,351.85 460.0,351.76 461.0,351.67 462.0,351.57 463.0,351.48 464.0,351.38 465.0,351.28 466.0,351.18 467.0,351.07 468.0,350.96 469.0,350.86 470.0,350.74 471.0,350.63 472.0,350.51 473.0,350.39 474.0,350.27 475.0,350.14 476.0,350.02 477.0,349.89 478.0,349.75 479.0,349.62 480.0,349.48 481.0,349.34 482.0,349.19 483.0,349.04 484.0,348.89 485.0,348.74 486.0,348.58 487.0,348.42 488.0,348.26 489.0,348.09 490.0,347.92 491.0,347.75 492.0,347.58 493.0,347.40 494.0,347.22 495.0,347.03 496.0,346.84 497.0,346.65 498.0,346.46 499.0,346.26 500.0,346.06 501.0,345.86 502.0,345.65 503.0,345.44 504.0,345.23 505.0,345.01 506.0,344.79 507.0,344.57 508.0,344.34 509.0,344.11 510.0,343.88 511.0,343.65 512.0,343.41 513.0,343.17 514.0,342.92 515.0,342.68 516.0,342.42 517.0,342.17 518.0,341.91 519.0,341.65 520.0,341.39 521.0,341.12 522.0,340.86 523.0,340.58 524.0,340.31 525.0,340.03 526.0,339.75 527.0,339.46 528.0,339.17 529.0,338.88 530.0,338.59 531.0,338.29 532.0,337.99 533.0,337.68 534.0,337.38 535.0,337.07 536.0,336.75 537.0,336.44 538.0,336.12 539.0,335.79 540.0,335.47 541.0,335.14 542.0,334.80 543.0,334.47 544.0,334.13 545.0,333.79 546.0,333.44 547.0,333.10 548.0,332.75 549.0,332.39 550.0,332.04 551.0,331.68 552.0,331.32 553.0,330.95 554.0,330.58 555.0,330.21 556.0,329.84 557.0,329.46 558.0,329.08 559.0,328.70 560.0,328.32 561.0,327.93 562.0,327.54 563.0,327.15 564.0,326.76 565.0,326.36 566.0,325.96 567.0,325.56 568.0,325.16 569.0,324.75 570.0,324.35 571.0,323.94 572.0,323.53 573.0,323.12 574.0,322.70 575.0,322.29 576.0,321.87 577.0,321.46 578.0,321.04 579.0,320.62 580.0,320.20 581.0,319.78 582.0,319.35 583.0,318.93 584.0,318.51 585.0,318.08 586.0,317.66 587.0,317.24 588.0,316.81 589.0,316.39 590.0,315.96 591.0,315.54 592.0,315.11 593.0,314.69 594.0,314.27 595.0,313.84 596.0,313.42 597.0,313.00 598.0,312.58 599.0,312.16 600.0,311.74 601.0,311.32 602.0,310.90 603.0,310.48 604.0,310.06 605.0,309.65 606.0,309.24 607.0,308.82 608.0,308.41 609.0,308.00 610.0,307.59 611.0,307.18 612.0,306.77 613.0,306.36 614.0,305.96 615.0,305.56 616.0,305.15 617.0,304.75 618.0,304.35 619.0,303.95 620.0,303.55 621.0,303.15 622.0,302.76 623.0,302.36 624.0,301.97 625.0,301.58 626.0,301.18 627.0,300.79 628.0,300.41 629.0,300.02 630.0,299.63 631.0,299.24 632.0,298.86 633.0,298.48 634.0,298.09 635.0,297.71 636.0,297.33 637.0,296.95 638.0,296.57 639.0,296.19 640.0,295.82 641.0,295.44 642.0,295.06 643.0,294.69 644.0,294.32 645.0,293.94 646.0,293.57 647.0,293.20 648.0,292.83 649.0,292.46 650.0,292.08 651.0,291.71 652.0,291.34 653.0,290.97 654.0,290.60 655.0,290.23 656.0,289.86 657.0,289.49 658.0,289.12 659.0,288.75 660.0,288.37 661.0,288.00 662.0,287.62 663.0,287.24 664.0,286.86 665.0,286.48 666.0,286.10 667.0,285.71 668.0,285.32 669.0,284.93 670.0,284.53 671.0,284.13 672.0,283.73 673.0,283.32 674.0,282.90 675.0,282.49 676.0,282.06 677.0,281.63 678.0,281.20 679.0,280.76 680.0,280.31 681.0,279.86 682.0,279.40 683.0,278.93 684.0,278.45 685.0,277.97 686.0,277.48 687.0,276.98 688.0,276.47 689.0,275.95 690.0,275.42 691.0,274.89 692.0,274.34 693.0,273.79 694.0,273.22 695.0,272.64 696.0,272.06 697.0,271.46 698.0,270.85 699.0,270.23 700.0,269.60 701.0,268.96 702.0,268.31 703.0,267.64 704.0,266.97 705.0,266.28 706.0,265.58 707.0,264.86 708.0,264.13 709.0,263.39 710.0,262.64 711.0,261.87 712.0,261.09 713.0,260.30 714.0,259.49 715.0,258.67 716.0,257.84 717.0,257.00 718.0,256.14 719.0,255.27 720.0,254.38 721.0,253.48 722.0,252.57 723.0,251.65 724.0,250.72 725.0,249.77 726.0,248.81 727.0,247.84 728.0,246.86 729.0,245.86 730.0,244.86 731.0,243.85 732.0,242.83 733.0,241.80 734.0,240.76 735.0,239.72 736.0,238.67 737.0,237.61 738.0,236.54 739.0,235.47 740.0,234.40 741.0,233.32 742.0,232.24 743.0,231.15 744.0,230.06 745.0,228.97 746.0,227.87 747.0,226.78 748.0,225.68 749.0,224.58 750.0,223.49 751.0,222.39 752.0,221.30 753.0,220.21 754.0,219.12 755.0,218.03 756.0,216.95 757.0,215.86 758.0,214.78 759.0,213.71 760.0,212.64 761.0,211.57 762.0,210.50 763.0,209.44 764.0,208.38 765.0,207.33 766.0,206.28 767.0,205.24 768.0,204.20 769.0,203.16 770.0,202.14 771.0,201.11 772.0,200.10 773.0,199.08 774.0,198.08 775.0,197.07 776.0,196.08 777.0,195.09 778.0,194.10 779.0,193.12 780.0,192.15 781.0,191.18 782.0,190.22 783.0,189.27 784.0,188.32 785.0,187.39 786.0,186.46 787.0,185.53 788.0,184.62 789.0,183.72 790.0,182.82 791.0,181.93 792.0,181.06 793.0,180.19 794.0,179.33 795.0,178.49 796.0,177.65 797.0,176.83 798.0,176.02 799.0,175.22 800.0,174.43 801.0,173.66 802.0,172.90 803.0,172.15 804.0,171.41 805.0,170.69 806.0,169.99 807.0,169.29 808.0,168.62 809.0,167.95 810.0,167.31 811.0,166.67 812.0,166.06 813.0,165.45 814.0,164.87 815.0,164.30 816.0,163.74 817.0,163.20 818.0,162.68 819.0,162.17 820.0,161.67 821.0,161.20 822.0,160.74 823.0,160.29 824.0,159.86 825.0,159.45 826.0,159.05 827.0,158.67 828.0,158.30 829.0,157.95 830.0,157.61 831.0,157.30 832.0,156.99 833.0,156.70 834.0,156.43 835.0,156.17 836.0,155.93 837.0,155.70 838.0,155.48 839.0,155.28 840.0,155.10 841.0,154.92 842.0,154.76" fill="none" stroke="#00ff00" stroke-width="1" stroke-opacity="0.5"/><polyline points="842.0,153.89 843.0,153.93 844.0,153.98 845.0,154.03 846.0,154.09 847.0,154.16 848.0,154.23 849.0,154.30 850.0,154.38 851.0,154.46 852.0,154.55 853.0,154.64 854.0,154.74 855.0,154.83 856.0,154.94 857.0,155.04 858.0,155.15 859.0,155.26 860.0,155.37 861.0,155.49 862.0,155.61 863.0,155.73 864.0,155.85 865.0,155.98 866.0,156.10 867.0,156.23 868.0,156.36 869.0,156.49 870.0,156.62 871.0,156.76 872.0,156.89 873.0,157.03 874.0,157.16 875.0,157.30 876.0,157.44 877.0,157.58 878.0,157.72 879.0,157.86 880.0,158.00 881.0,158.14 882.0,158.28 883.0,158.42 884.0,158.57 885.0,158.71 886.0,158.85 887.0,159.00 888.0,159.14 889.0,159.29 890.0,159.43 891.0,159.58 892.0,159.72 893.0,159.87 894.0,160.01 895.0,160.16 896.0,160.31 897.0,160.45 898.0,160.60 899.0,160.75 900.0,160.90 901.0,161.05 902.0,161.20 903.0,161.35 904.0,161.50 905.0,161.65 906.0,161.80 907.0,161.95 908.0,162.10 909.0,162.26 910.0,162.41 911.0,162.57 912.0,162.72 913.0,162.88 914.0,163.03 915.0,163.19 916.0,163.35 917.0,163.50 918.0,163.66 919.0,163.82 920.0,163.98 921.0,164.14 922.0,164.30 923.0,164.46 924.0,164.62 925.0,164.79 926.0,164.95 927.0,165.11 928.0,165.27 929.0,165.44 930.0,165.60 931.0,165.76 932.0,165.93 933.0,166.09 934.0,166.26 935.0,166.42 935.4,166.49" fill="none" stroke="#ff0000" stroke-width="1" stroke-opacity="0.5"/><polyline points="842.0,154.76 843.0,154.62 844.0,154.49 845.0,154.37 846.0,154.26 847.0,154.16 848.0,154.08 849.0,154.01 850.0,153.95 851.0,153.90 852.0,153.86 853.0,153.83 854.0,153.81 855.0,153.80 856.0,153.79 857.0,153.80 858.0,153.82 859.0,153.84 860.0,153.87 861.0,153.91 862.0,153.95 863.0,154.00 864.0,154.05 865.0,154.11 866.0,154.18 867.0,154.25 868.0,154.32 869.0,154.41 870.0,154.49 871.0,154.58 872.0,154.67 873.0,154.77 874.0,154.87 875.0,154.97 876.0,155.08 877.0,155.19 878.0,155.30 879.0,155.41 880.0,155.53 881.0,155.65 882.0,155.77 883.0,155.89 884.0,156.02 885.0,156.14 886.0,156.27 887.0,156.40 888.0,156.53 889.0,156.67 890.0,156.80 891.0,156.93 892.0,157.07 893.0,157.21 894.0,157.34 895.0,157.48 896.0,157.62 897.0,157.76 898.0,157.90 899.0,158.04 900.0,158.19 901.0,158.33 902.0,158.47 903.0,158.61 904.0,158.76 905.0,158.90 906.0,159.04 907.0,159.19 908.0,159.33 909.0,159.48 910.0,159.62 911.0,159.77 912.0,159.91 913.0,160.06 914.0,160.21 915.0,160.35 916.0,160.50 917.0,160.65 918.0,160.80 919.0,160.95 920.0,161.10 921.0,161.25 922.0,161.40 923.0,161.55 924.0,161.70 925.0,161.85 926.0,162.00 927.0,162.15 928.0,162.31 929.0,162.46 930.0,162.62 931.0,162.77 932.0,162.93 933.0,163.08 934.0,163.24 935.0,163.40 935.4,163.46" fill="none" stroke="#ff0000" stroke-width="1" stroke-opacity="0.5"/><line x1="10" y1="97" x2="1205" y2="97" stroke="#2962ff" stroke-width="2"/><line x1="10" y1="153" x2="1205" y2="153" stroke="#2962ff" stroke-width="2"/><line x1="10" y1="186" x2="1205" y2="186" stroke="#2962ff" stroke-width="2"/><line x1="10" y1="238" x2="1205" y2="238" stroke="#2962ff" stroke-width="2"/><line x1="10" y1="271" x2="1205" y2="271" stroke="#2962ff" stroke-width="2"/><line x1="10" y1="288" x2="1205" y2="288" stroke="#2962ff" stroke-width="2"/><line x1="10" y1="306" x2="1205" y2="306" stroke="#2962ff" stroke-width="2"/><line x1="10" y1="344" x2="1205" y2="344" stroke="#2962ff" stroke-width="2"/><line x1="10" y1="358" x2="1205" y2="358" stroke="#2962ff" stroke-width="2"/><rect x="39" y="375" width="1" height="5" fill="#26a69a"/><rect x="36" y="377" width="7" height="3" fill="#26a69a"/><rect x="48" y="367" width="1" height="13" fill="#ef5350"/><rect x="45" y="377" width="7" height="3" fill="#ef5350"/><rect x="197" y="368" width="1" height="12" fill="#26a69a"/><rect x="194" y="375" width="7" height="5" fill="#26a69a"/><rect x="207" y="362" width="1" height="18" fill="#ef5350"/><rect x="204" y="375" width="7" height="5" fill="#ef5350"/><rect x="216" y="371" width="1" height="9" fill="#ef5350"/><rect x="213" y="380" width="7" height="1" fill="#ef5350"/><rect x="235" y="365" width="1" height="15" fill="#26a69a"/><rect x="232" y="370" width="7" height="10" fill="#26a69a"/><rect x="244" y="368" width="1" height="10" fill="#ef5350"/><rect x="241" y="370" width="7" height="6" fill="#ef5350"/><rect x="253" y="372" width="1" height="8" fill="#ef5350"/><rect x="250" y="375" width="7" height="5" fill="#ef5350"/><rect x="263" y="355" width="1" height="25" fill="#26a69a"/><rect x="260" y="362" width="7" height="18" fill="#26a69a"/><rect x="272" y="353" width="1" height="27" fill="#ef5350"/><rect x="269" y="362" width="7" height="18" fill="#ef5350"/><rect x="281" y="343" width="1" height="37" fill="#26a69a"/><rect x="278" y="344" width="7" height="36" fill="#26a69a"/><rect x="291" y="344" width="1" height="14" fill="#ef5350"/><rect x="288" y="344" width="7" height="12" fill="#ef5350"/><rect x="300" y="352" width="1" height="22" fill="#ef5350"/><rect x="297" y="355" width="7" height="3" fill="#ef5350"/><rect x="309" y="355" width="1" height="25" fill="#ef5350"/><rect x="306" y="357" width="7" height="23" fill="#ef5350"/><rect x="319" y="362" width="1" height="18" fill="#26a69a"/><rect x="316" y="365" width="7" height="15" fill="#26a69a"/><rect x="328" y="363" width="1" height="9" fill="#ef5350"/><rect x="325" y="365" width="7" height="6" fill="#ef5350"/><rect x="337" y="355" width="1" height="17" fill="#26a69a"/><rect x="334" y="359" width="7" height="12" fill="#26a69a"/><rect x="347" y="356" width="1" height="17" fill="#ef5350"/><rect x="344" y="359" width="7" height="8" fill="#ef5350"/><rect x="356" y="365" width="1" height="7" fill="#ef5350"/><rect x="353" y="366" width="7" height="1" fill="#ef5350"/><rect x="365" y="362" width="1" height="7" fill="#ef5350"/><rect x="362" y="366" width="7" height="3" fill="#ef5350"/><rect x="375" y="362" width="1" height="16" fill="#ef5350"/><rect x="372" y="368" width="7" height="9" fill="#ef5350"/><rect x="384" y="369" width="1" height="9" fill="#26a69a"/><rect x="381" y="372" width="7" height="5" fill="#26a69a"/><rect x="393" y="365" width="1" height="9" fill="#26a69a"/><rect x="390" y="370" width="7" height="3" fill="#26a69a"/><rect x="403" y="369" width="1" height="9" fill="#ef5350"/><rect x="400" y="370" width="7" height="8" fill="#ef5350"/><rect x="412" y="369" width="1" height="9" fill="#26a69a"/><rect x="409" y="373" width="7" height="5" fill="#26a69a"/><rect x="421" y="365" width="1" height="9" fill="#26a69a"/><rect x="418" y="367" width="7" height="7" fill="#26a69a"/><rect x="431" y="353" width="1" height="14" fill="#26a69a"/><rect x="428" y="355" width="7" height="12" fill="#26a69a"/><rect x="440" y="352" width="1" height="9" fill="#ef5350"/><rect x="437" y="355" width="7" height="3" fill="#ef5350"/><rect x="449" y="353" width="1" height="8" fill="#26a69a"/><rect x="446" y="355" width="7" height="1" fill="#26a69a"/><rect x="459" y="339" width="1" height="18" fill="#26a69a"/><rect x="456" y="347" width="7" height="9" fill="#26a69a"/><rect x="468" y="341" width="1" height="9" fill="#26a69a"/><rect x="465" y="342" width="7" height="6" fill="#26a69a"/><rect x="477" y="326" width="1" height="17" fill="#26a69a"/><rect x="474" y="329" width="7" height="14" fill="#26a69a"/><rect x="487" y="314" width="1" height="16" fill="#26a69a"/><rect x="484" y="323" width="7" height="7" fill="#26a69a"/><rect x="496" y="317" width="1" height="13" fill="#ef5350"/><rect x="493" y="324" width="7" height="5" fill="#ef5350"/><rect x="505" y="322" width="1" height="15" fill="#ef5350"/><rect x="502" y="328" width="7" height="5" fill="#ef5350"/><rect x="515" y="308" width="1" height="25" fill="#26a69a"/><rect x="512" y="311" width="7" height="22" fill="#26a69a"/><rect x="524" y="287" width="1" height="29" fill="#26a69a"/><rect x="521" y="290" width="7" height="21" fill="#26a69a"/><rect x="533" y="280" width="1" height="17" fill="#ef5350"/><rect x="530" y="290" width="7" height="7" fill="#ef5350"/><rect x="543" y="283" width="1" height="16" fill="#26a69a"/><rect x="540" y="293" width="7" height="3" fill="#26a69a"/><rect x="552" y="256" width="1" height="38" fill="#26a69a"/><rect x="549" y="258" width="7" height="36" fill="#26a69a"/><rect x="561" y="233" width="1" height="28" fill="#26a69a"/><rect x="558" y="255" width="7" height="4" fill="#26a69a"/><rect x="571" y="254" width="1" height="44" fill="#ef5350"/><rect x="568" y="256" width="7" height="33" fill="#ef5350"/><rect x="580" y="268" width="1" height="38" fill="#26a69a"/><rect x="577" y="275" width="7" height="15" fill="#26a69a"/><rect x="589" y="264" width="1" height="25" fill="#26a69a"/><rect x="586" y="273" width="7" height="3" fill="#26a69a"/><rect x="599" y="272" width="1" height="48" fill="#ef5350"/><rect x="596" y="273" width="7" height="44" fill="#ef5350"/><rect x="608" y="304" width="1" height="20" fill="#26a69a"/><rect x="605" y="307" width="7" height="10" fill="#26a69a"/><rect x="617" y="292" width="1" height="18" fill="#26a69a"/><rect x="614" y="303" width="7" height="5" fill="#26a69a"/><rect x="627" y="288" width="1" height="18" fill="#26a69a"/><rect x="624" y="288" width="7" height="16" fill="#26a69a"/><rect x="636" y="263" width="1" height="26" fill="#26a69a"/><rect x="633" y="266" width="7" height="23" fill="#26a69a"/><rect x="645" y="264" width="1" height="24" fill="#ef5350"/><rect x="642" y="267" width="7" height="14" fill="#ef5350"/><rect x="655" y="263" width="1" height="19" fill="#26a69a"/><rect x="652" y="268" width="7" height="12" fill="#26a69a"/><rect x="664" y="226" width="1" height="44" fill="#26a69a"/><rect x="661" y="231" width="7" height="38" fill="#26a69a"/><rect x="673" y="170" width="1" height="64" fill="#26a69a"/><rect x="670" y="172" width="7" height="60" fill="#26a69a"/><rect x="683" y="171" width="1" height="33" fill="#ef5350"/><rect x="680" y="172" width="7" height="24" fill="#ef5350"/><rect x="692" y="173" width="1" height="26" fill="#26a69a"/><rect x="689" y="185" width="7" height="11" fill="#26a69a"/><rect x="701" y="143" width="1" height="45" fill="#26a69a"/><rect x="698" y="152" width="7" height="34" fill="#26a69a"/><rect x="711" y="74" width="1" height="89" fill="#26a69a"/><rect x="708" y="104" width="7" height="49" fill="#26a69a"/><rect x="720" y="87" width="1" height="41" fill="#26a69a"/><rect x="717" y="103" width="7" height="2" fill="#26a69a"/><rect x="729" y="96" width="1" height="55" fill="#ef5350"/><rect x="726" y="102" width="7" height="32" fill="#ef5350"/><rect x="739" y="118" width="1" height="231" fill="#ef5350"/><rect x="736" y="133" width="7" height="91" fill="#ef5350"/><rect x="748" y="176" width="1" height="62" fill="#26a69a"/><rect x="745" y="204" width="7" height="21" fill="#26a69a"/><rect x="758" y="95" width="1" height="125" fill="#26a69a"/><rect x="755" y="104" width="7" height="101" fill="#26a69a"/><rect x="767" y="62" width="1" height="73" fill="#ef5350"/><rect x="764" y="105" width="7" height="6" fill="#ef5350"/><rect x="776" y="95" width="1" height="104" fill="#ef5350"/><rect x="773" y="110" width="7" height="51" fill="#ef5350"/><rect x="786" y="153" width="1" height="43" fill="#ef5350"/><rect x="783" y="160" width="7" height="29" fill="#ef5350"/><rect x="795" y="167" width="1" height="44" fill="#ef5350"/><rect x="792" y="187" width="7" height="12" fill="#ef5350"/><rect x="804" y="192" width="1" height="79" fill="#ef5350"/><rect x="801" y="198" width="7" height="44" fill="#ef5350"/><rect x="814" y="207" width="1" height="35" fill="#26a69a"/><rect x="811" y="229" width="7" height="13" fill="#26a69a"/><rect x="823" y="206" width="1" height="38" fill="#26a69a"/><rect x="820" y="219" width="7" height="11" fill="#26a69a"/><rect x="832" y="200" width="1" height="32" fill="#ef5350"/><rect x="829" y="219" width="7" height="7" fill="#ef5350"/><rect x="842" y="216" width="1" height="37" fill="#ef5350"/><rect x="839" y="225" width="7" height="26" fill="#ef5350"/><rect x="851" y="234" width="1" height="19" fill="#26a69a"/><rect x="848" y="242" width="7" height="10" fill="#26a69a"/><rect x="860" y="190" width="1" height="52" fill="#26a69a"/><rect x="857" y="209" width="7" height="33" fill="#26a69a"/><rect x="870" y="199" width="1" height="27" fill="#ef5350"/><rect x="867" y="209" width="7" height="12" fill="#ef5350"/><rect x="879" y="213" width="1" height="11" fill="#26a69a"/><rect x="876" y="215" width="7" height="6" fill="#26a69a"/><rect x="888" y="196" width="1" height="20" fill="#26a69a"/><rect x="885" y="203" width="7" height="13" fill="#26a69a"/><rect x="898" y="177" width="1" height="30" fill="#26a69a"/><rect x="895" y="202" width="7" height="3" fill="#26a69a"/><rect x="907" y="197" width="1" height="43" fill="#ef5350"/><rect x="904" y="202" width="7" height="22" fill="#ef5350"/><rect x="916" y="212" width="1" height="22" fill="#26a69a"/><rect x="913" y="220" width="7" height="5" fill="#26a69a"/><rect x="926" y="208" width="1" height="43" fill="#ef5350"/><rect x="923" y="220" width="7" height="18" fill="#ef5350"/><rect x="935" y="222" width="1" height="20" fill="#ef5350"/><rect x="932" y="237" width="7" height="4" fill="#ef5350"/></g>
<g clip-path="url(#qp)"><line x1="10" y1="454.5" x2="1205" y2="454.5" stroke="#e3e3e3" stroke-width="1" stroke-dasharray="2,1" stroke-dashoffset="2"/><rect x="6" y="397" width="9" height="58" fill="#00c3ff"/><rect x="16" y="400" width="8" height="55" fill="#00c3ff"/><rect x="25" y="400" width="8" height="55" fill="#00c3ff"/><rect x="34" y="396" width="9" height="59" fill="#00c3ff"/><rect x="44" y="402" width="8" height="53" fill="#00c3ff"/><rect x="53" y="413" width="8" height="42" fill="#00c3ff"/><rect x="62" y="425" width="9" height="30" fill="#00c3ff"/><rect x="72" y="436" width="8" height="19" fill="#8a8a8a"/><rect x="81" y="449" width="8" height="6" fill="#8a8a8a"/><rect x="90" y="454" width="9" height="9" fill="#ff0062"/><rect x="100" y="454" width="8" height="12" fill="#ff0062"/><rect x="109" y="454" width="8" height="9" fill="#ff0062"/><rect x="118" y="454" width="9" height="11" fill="#ff0062"/><rect x="128" y="454" width="8" height="7" fill="#ff0062"/><rect x="146" y="446" width="9" height="9" fill="#8a8a8a"/><rect x="156" y="441" width="8" height="14" fill="#8a8a8a"/><rect x="165" y="435" width="8" height="20" fill="#8a8a8a"/><rect x="174" y="432" width="9" height="23" fill="#8a8a8a"/><rect x="184" y="424" width="8" height="31" fill="#8a8a8a"/><rect x="193" y="417" width="8" height="38" fill="#00c3ff"/><rect x="202" y="416" width="9" height="39" fill="#00c3ff"/><rect x="212" y="422" width="8" height="33" fill="#00c3ff"/><rect x="221" y="423" width="8" height="32" fill="#8a8a8a"/><rect x="230" y="420" width="9" height="35" fill="#00c3ff"/><rect x="240" y="422" width="8" height="33" fill="#8a8a8a"/><rect x="249" y="434" width="8" height="21" fill="#8a8a8a"/><rect x="258" y="431" width="9" height="24" fill="#8a8a8a"/><rect x="268" y="438" width="8" height="17" fill="#8a8a8a"/><rect x="277" y="432" width="8" height="23" fill="#8a8a8a"/><rect x="286" y="434" width="9" height="21" fill="#8a8a8a"/><rect x="296" y="435" width="8" height="20" fill="#8a8a8a"/><rect x="305" y="445" width="8" height="10" fill="#8a8a8a"/><rect x="314" y="446" width="9" height="9" fill="#8a8a8a"/><rect x="324" y="449" width="8" height="6" fill="#8a8a8a"/><rect x="333" y="446" width="8" height="9" fill="#8a8a8a"/><rect x="342" y="448" width="9" height="7" fill="#8a8a8a"/><rect x="352" y="449" width="8" height="6" fill="#8a8a8a"/><rect x="398" y="454" width="9" height="8" fill="#ff0062"/><rect x="408" y="454" width="8" height="8" fill="#ff0062"/><rect x="426" y="445" width="9" height="10" fill="#8a8a8a"/><rect x="436" y="440" width="8" height="15" fill="#8a8a8a"/><rect x="445" y="435" width="8" height="20" fill="#8a8a8a"/><rect x="454" y="428" width="9" height="27" fill="#8a8a8a"/><rect x="464" y="421" width="8" height="34" fill="#00c3ff"/><rect x="473" y="413" width="8" height="42" fill="#00c3ff"/><rect x="482" y="406" width="9" height="49" fill="#00c3ff"/><rect x="492" y="407" width="8" height="48" fill="#00c3ff"/><rect x="501" y="413" width="8" height="42" fill="#00c3ff"/><rect x="510" y="409" width="9" height="46" fill="#00c3ff"/><rect x="520" y="404" width="8" height="51" fill="#00c3ff"/><rect x="529" y="405" width="8" height="50" fill="#00c3ff"/><rect x="538" y="405" width="9" height="50" fill="#00c3ff"/><rect x="548" y="400" width="8" height="55" fill="#00c3ff"/><rect x="557" y="396" width="8" height="59" fill="#00c3ff"/><rect x="566" y="412" width="9" height="43" fill="#00c3ff"/><rect x="576" y="419" width="8" height="36" fill="#00c3ff"/><rect x="585" y="423" width="8" height="32" fill="#00c3ff"/><rect x="594" y="440" width="9" height="15" fill="#8a8a8a"/><rect x="604" y="448" width="8" height="7" fill="#8a8a8a"/><rect x="632" y="443" width="8" height="12" fill="#8a8a8a"/><rect x="641" y="443" width="8" height="12" fill="#8a8a8a"/><rect x="650" y="440" width="9" height="15" fill="#8a8a8a"/><rect x="660" y="431" width="8" height="24" fill="#8a8a8a"/><rect x="669" y="420" width="9" height="35" fill="#00c3ff"/><rect x="679" y="420" width="8" height="35" fill="#00c3ff"/><rect x="688" y="418" width="8" height="37" fill="#00c3ff"/><rect x="697" y="414" width="9" height="41" fill="#00c3ff"/><rect x="707" y="408" width="8" height="47" fill="#00c3ff"/><rect x="716" y="404" width="8" height="51" fill="#00c3ff"/><rect x="725" y="411" width="9" height="44" fill="#00c3ff"/><rect x="735" y="431" width="8" height="24" fill="#8a8a8a"/><rect x="744" y="441" width="8" height="14" fill="#8a8a8a"/><rect x="753" y="437" width="9" height="18" fill="#8a8a8a"/><rect x="763" y="435" width="8" height="20" fill="#8a8a8a"/><rect x="772" y="441" width="8" height="14" fill="#8a8a8a"/><rect x="781" y="448" width="9" height="7" fill="#8a8a8a"/><rect x="800" y="454" width="8" height="11" fill="#ff0062"/><rect x="809" y="454" width="9" height="14" fill="#ff0062"/><rect x="819" y="454" width="8" height="14" fill="#ff0062"/><rect x="828" y="454" width="8" height="15" fill="#ff0062"/><rect x="837" y="454" width="9" height="20" fill="#ff0062"/><rect x="847" y="454" width="8" height="20" fill="#ff0062"/><rect x="856" y="454" width="8" height="13" fill="#ff0062"/><rect x="865" y="454" width="9" height="11" fill="#ff0062"/><rect x="875" y="454" width="8" height="8" fill="#ff0062"/><rect x="921" y="454" width="9" height="11" fill="#ff0062"/><rect x="931" y="454" width="8" height="16" fill="#ff0062"/><line x1="10" y1="454.5" x2="1205" y2="454.5" stroke="#ffffff" stroke-width="1" stroke-dasharray="1,2"/></g>
<line x1="10" y1="240.5" x2="1154" y2="240.5" stroke="#ef5350" stroke-width="1" stroke-dasharray="1,2"/>
<rect x="10.5" y="27.5" width="1260" height="483" fill="none" stroke="#ebebee" stroke-width="1"/>
<line x1="1205.5" y1="27" x2="1205.5" y2="511" stroke="#ebebee" stroke-width="1"/>
<line x1="10" y1="378.5" x2="1271" y2="378.5" stroke="#ebebee" stroke-width="1"/>
<line x1="10" y1="483.5" x2="1271" y2="483.5" stroke="#ebebee" stroke-width="1"/>
<circle cx="935.5" cy="365.3" r="10.8" fill="#fff"/>
<circle cx="935.5" cy="365.3" r="9.6" fill="#fff" stroke="#9c27b0" stroke-width="1.7"/>
<path d="M938.9,359.9 L931.4,365.9 L935.6,365.9 L932.1,370.8 L939.7,364.7 L935.5,364.7 Z" fill="#9c27b0" stroke="#9c27b0" stroke-width="0.6" stroke-linejoin="round"/>
<g clip-path="url(#pa)"><text x="1215.4" y="109.9" font-family="Liberation Sans, sans-serif" font-size="12.6" fill="#131722" font-weight="normal" stroke="#131722" stroke-width="0.3" textLength="39.2" lengthAdjust="spacingAndGlyphs">1,300.0</text><text x="1215.4" y="288.4" font-family="Liberation Sans, sans-serif" font-size="12.6" fill="#131722" font-weight="normal" stroke="#131722" stroke-width="0.3" textLength="38.6" lengthAdjust="spacingAndGlyphs">1,000.0</text><path d="M1206,89.1 H1257.3 Q1259.8,89.1 1259.8,91.6 V103.1 Q1259.8,105.6 1257.3,105.6 H1206 Z" fill="#2962ff"/><text x="1214.4" y="101.2" font-family="Liberation Sans, sans-serif" font-size="12.6" fill="#ffffff" font-weight="normal" stroke="#ffffff" stroke-width="0.45" textLength="40.2" lengthAdjust="spacingAndGlyphs">1,317.5</text><path d="M1206,125.5 H1257.3 Q1259.8,125.5 1259.8,128.0 V139.5 Q1259.8,142 1257.3,142 H1206 Z" fill="#2962ff"/><text x="1214.4" y="137" font-family="Liberation Sans, sans-serif" font-size="12.6" fill="#ffffff" font-weight="normal" stroke="#ffffff" stroke-width="0.45" textLength="40.2" lengthAdjust="spacingAndGlyphs">1,221.5</text><path d="M1206,142.3 H1257.3 Q1259.8,142.3 1259.8,144.8 V157.5 Q1259.8,160 1257.3,160 H1206 Z" fill="#ff0000"/><text x="1214.4" y="153.8" font-family="Liberation Sans, sans-serif" font-size="12.6" fill="#ffffff" font-weight="normal" stroke="#ffffff" stroke-width="0.45" textLength="40.2" lengthAdjust="spacingAndGlyphs">1,205.4</text><path d="M1206,159.25 H1257.3 Q1259.8,159.25 1259.8,161.75 V173.25 Q1259.8,175.75 1257.3,175.75 H1206 Z" fill="#ff0000"/><text x="1214.4" y="170.7" font-family="Liberation Sans, sans-serif" font-size="12.6" fill="#ffffff" font-weight="normal" stroke="#ffffff" stroke-width="0.45" textLength="40.2" lengthAdjust="spacingAndGlyphs">1,199.1</text><path d="M1206,178.5 H1257.3 Q1259.8,178.5 1259.8,181.0 V192.5 Q1259.8,195 1257.3,195 H1206 Z" fill="#2962ff"/><text x="1214.4" y="190" font-family="Liberation Sans, sans-serif" font-size="12.6" fill="#ffffff" font-weight="normal" stroke="#ffffff" stroke-width="0.45" textLength="40.2" lengthAdjust="spacingAndGlyphs">1,166.8</text><path d="M1206,215 H1257.3 Q1259.8,215 1259.8,217.5 V229.0 Q1259.8,231.5 1257.3,231.5 H1206 Z" fill="#2962ff"/><text x="1214.4" y="227.3" font-family="Liberation Sans, sans-serif" font-size="12.6" fill="#ffffff" font-weight="normal" stroke="#ffffff" stroke-width="0.45" textLength="40.2" lengthAdjust="spacingAndGlyphs">1,077.9</text><path d="M1206,263.2 H1257.3 Q1259.8,263.2 1259.8,265.7 V277.0 Q1259.8,279.5 1257.3,279.5 H1206 Z" fill="#2962ff"/><text x="1214.4" y="275" font-family="Liberation Sans, sans-serif" font-size="12.6" fill="#ffffff" font-weight="normal" stroke="#ffffff" stroke-width="0.45" textLength="40.2" lengthAdjust="spacingAndGlyphs">1,023.5</text><path d="M1206,279.5 H1246.4 Q1248.9,279.5 1248.9,282.0 V293.8 Q1248.9,296.3 1246.4,296.3 H1206 Z" fill="#2962ff"/><text x="1213.8" y="292.3" font-family="Liberation Sans, sans-serif" font-size="12.6" fill="#ffffff" font-weight="normal" stroke="#ffffff" stroke-width="0.45" textLength="29.9" lengthAdjust="spacingAndGlyphs">994.5</text><path d="M1206,298 H1246.4 Q1248.9,298 1248.9,300.5 V312.2 Q1248.9,314.7 1246.4,314.7 H1206 Z" fill="#2962ff"/><text x="1213.8" y="310.5" font-family="Liberation Sans, sans-serif" font-size="12.6" fill="#ffffff" font-weight="normal" stroke="#ffffff" stroke-width="0.45" textLength="29.9" lengthAdjust="spacingAndGlyphs">962.9</text><path d="M1206,336 H1246.4 Q1248.9,336 1248.9,338.5 V350.0 Q1248.9,352.5 1246.4,352.5 H1206 Z" fill="#2962ff"/><text x="1213.8" y="348.6" font-family="Liberation Sans, sans-serif" font-size="12.6" fill="#ffffff" font-weight="normal" stroke="#ffffff" stroke-width="0.45" textLength="29.9" lengthAdjust="spacingAndGlyphs">899.4</text><path d="M1206,352.5 H1246.4 Q1248.9,352.5 1248.9,355.0 V366.5 Q1248.9,369 1246.4,369 H1206 Z" fill="#2962ff"/><text x="1213.8" y="365.3" font-family="Liberation Sans, sans-serif" font-size="12.6" fill="#ffffff" font-weight="normal" stroke="#ffffff" stroke-width="0.45" textLength="29.9" lengthAdjust="spacingAndGlyphs">875.3</text><path d="M1206,369 H1246.4 Q1248.9,369 1248.9,371.5 V383.0 Q1248.9,385.5 1246.4,385.5 H1206 Z" fill="#2962ff"/><text x="1213.8" y="381.5" font-family="Liberation Sans, sans-serif" font-size="12.6" fill="#ffffff" font-weight="normal" stroke="#ffffff" stroke-width="0.45" textLength="29.9" lengthAdjust="spacingAndGlyphs">833.5</text><path d="M1206,232 H1263.1 Q1265.6,232 1265.6,234.5 V260.2 Q1265.6,262.7 1263.1,262.7 H1206 Z" fill="#ef5350"/><text x="1214.4" y="243.4" font-family="Liberation Sans, sans-serif" font-size="12.6" fill="#ffffff" font-weight="normal" stroke="#ffffff" stroke-width="0.45" textLength="40.2" lengthAdjust="spacingAndGlyphs">1,075.0</text><text x="1213.9" y="257.6" font-family="Liberation Sans, sans-serif" font-size="12.6" fill="#fce4e4" font-weight="normal" stroke="#fce4e4" stroke-width="0.35" textLength="46.8" lengthAdjust="spacingAndGlyphs">06:37:47</text></g>
<g clip-path="url(#pb)"><text x="1213.5" y="392.6" font-family="Liberation Sans, sans-serif" font-size="12.6" fill="#131722" font-weight="normal" stroke="#131722" stroke-width="0.3" textLength="23.9" lengthAdjust="spacingAndGlyphs">40.0</text><text x="1213.5" y="425.8" font-family="Liberation Sans, sans-serif" font-size="12.6" fill="#131722" font-weight="normal" stroke="#131722" stroke-width="0.3" textLength="24.4" lengthAdjust="spacingAndGlyphs">20.0</text><path d="M1206,403 H1240.7 Q1243.2,403 1243.2,405.5 V417.1 Q1243.2,419.6 1240.7,419.6 H1206 Z" fill="#00c3ff"/><text x="1213.5" y="415.8" font-family="Liberation Sans, sans-serif" font-size="12.6" fill="#131722" font-weight="normal" stroke="#131722" stroke-width="0.3" textLength="24.4" lengthAdjust="spacingAndGlyphs">26.5</text><text x="1213.5" y="458.5" font-family="Liberation Sans, sans-serif" font-size="12.6" fill="#131722" font-weight="normal" stroke="#131722" stroke-width="0.3" textLength="22.0" lengthAdjust="spacingAndGlyphs">0.0</text><rect x="1206" y="454.3" width="40" height="16" fill="#fff"/><text x="1213.5" y="466.5" font-family="Liberation Sans, sans-serif" font-size="12.6" fill="#131722" font-weight="normal" stroke="#131722" stroke-width="0.3" textLength="24.4" lengthAdjust="spacingAndGlyphs">−4.8</text><path d="M1206,471.5 H1240.7 Q1243.2,471.5 1243.2,474.0 V485.5 Q1243.2,488 1240.7,488 H1206 Z" fill="#787878"/><text x="1213.5" y="483.5" font-family="Liberation Sans, sans-serif" font-size="12.6" fill="#ffffff" font-weight="normal" stroke="#ffffff" stroke-width="0.3" textLength="24.4" lengthAdjust="spacingAndGlyphs">−9.1</text></g>
<path d="M1205,232 H1156.5 Q1154,232 1154,234.5 V246.5 Q1154,249 1156.5,249 H1205 Z" fill="#ef5350"/>
<text x="1158.1" y="244.6" font-family="Liberation Sans, sans-serif" font-size="12.6" fill="#ffffff" font-weight="normal" stroke="#ffffff" stroke-width="0.3" textLength="43.4" lengthAdjust="spacingAndGlyphs">BNBUSD</text>
<text x="9.5" y="18.7" font-family="Liberation Sans, sans-serif" font-size="12.4" fill="#131722" font-weight="normal" stroke="#131722" stroke-width="0.3" textLength="66.2" lengthAdjust="spacingAndGlyphs">CROWNGIMS</text>
<text x="79.1" y="18.7" font-family="Liberation Sans, sans-serif" font-size="12.4" fill="#131722" font-weight="normal" stroke="#131722" stroke-width="0.3" textLength="166.7" lengthAdjust="spacingAndGlyphs">created with TradingView.com,</text>
<text x="249.7" y="18.7" font-family="Liberation Sans, sans-serif" font-size="12.4" fill="#131722" font-weight="normal" stroke="#131722" stroke-width="0.3" textLength="127.2" lengthAdjust="spacingAndGlyphs">Oct 31, 2025 17:22 UTC</text>
<text x="17.9" y="45.6" font-family="Liberation Sans, sans-serif" font-size="12" fill="#131722" font-weight="normal" stroke="#131722" stroke-width="0.3" textLength="42.4" lengthAdjust="spacingAndGlyphs">BNBUSD</text>
<text x="64.4" y="45.6" font-family="Liberation Sans, sans-serif" font-size="12" fill="#131722" font-weight="normal" stroke="#131722" stroke-width="0.3" textLength="104.2" lengthAdjust="spacingAndGlyphs">· Binance Coin / US</text>
<text x="171.7" y="45.6" font-family="Liberation Sans, sans-serif" font-size="12" fill="#131722" font-weight="normal" stroke="#131722" stroke-width="0.3" textLength="110.7" lengthAdjust="spacingAndGlyphs">Dollar · 1D · Binance</text>
<text x="289.5" y="45.6" font-family="Liberation Sans, sans-serif" font-size="12" fill="#131722" font-weight="normal" stroke="#131722" stroke-width="0.3" textLength="8.4" lengthAdjust="spacingAndGlyphs">O</text>
<text x="297.3" y="45.6" font-family="Liberation Sans, sans-serif" font-size="12" fill="#f0434f" font-weight="normal" stroke="#f0434f" stroke-width="0.3" textLength="41.2" lengthAdjust="spacingAndGlyphs">1,079.6</text>
<text x="344.7" y="45.6" font-family="Liberation Sans, sans-serif" font-size="12" fill="#131722" font-weight="normal" stroke="#131722" stroke-width="0.3" textLength="8.3" lengthAdjust="spacingAndGlyphs">H</text>
<text x="352.4" y="45.6" font-family="Liberation Sans, sans-serif" font-size="12" fill="#f0434f" font-weight="normal" stroke="#f0434f" stroke-width="0.3" textLength="40.8" lengthAdjust="spacingAndGlyphs">1,105.1</text>
<text x="400.3" y="45.6" font-family="Liberation Sans, sans-serif" font-size="12" fill="#131722" font-weight="normal" stroke="#131722" stroke-width="0.3" textLength="6.7" lengthAdjust="spacingAndGlyphs">L</text>
<text x="406.4" y="45.6" font-family="Liberation Sans, sans-serif" font-size="12" fill="#f0434f" font-weight="normal" stroke="#f0434f" stroke-width="0.3" textLength="40.9" lengthAdjust="spacingAndGlyphs">1,071.8</text>
<text x="454.0" y="45.6" font-family="Liberation Sans, sans-serif" font-size="12" fill="#131722" font-weight="normal" stroke="#131722" stroke-width="0.3" textLength="8.0" lengthAdjust="spacingAndGlyphs">C</text>
<text x="461.4" y="45.6" font-family="Liberation Sans, sans-serif" font-size="12" fill="#f0434f" font-weight="normal" stroke="#f0434f" stroke-width="0.3" textLength="41.1" lengthAdjust="spacingAndGlyphs">1,075.0</text>
<text x="508.0" y="45.6" font-family="Liberation Sans, sans-serif" font-size="12" fill="#f0434f" font-weight="normal" stroke="#f0434f" stroke-width="0.3" textLength="73.5" lengthAdjust="spacingAndGlyphs">−4.5 (−0.42%)</text>
<text x="17.9" y="62.5" font-family="Liberation Sans, sans-serif" font-size="12" fill="#131722" font-weight="normal" stroke="#131722" stroke-width="0.3" textLength="110.1" lengthAdjust="spacingAndGlyphs">Hull Suite by InSilico</text>
<text x="132.5" y="62.5" font-family="Liberation Sans, sans-serif" font-size="12" fill="#131722" font-weight="normal" stroke="#131722" stroke-width="0.3" textLength="174.9" lengthAdjust="spacingAndGlyphs">(close, Hma, 51, 1.5, 240, 1, 40)</text>
<text x="314.9" y="62.5" font-family="Liberation Sans, sans-serif" font-size="12" fill="#ff0000" font-weight="normal" stroke="#ff0000" stroke-width="0.55" textLength="39.2" lengthAdjust="spacingAndGlyphs">1,199.1</text>
<text x="362.1" y="62.5" font-family="Liberation Sans, sans-serif" font-size="12" fill="#ff0000" font-weight="normal" stroke="#ff0000" stroke-width="0.55" textLength="41.4" lengthAdjust="spacingAndGlyphs">1,205.4</text>
<text x="17.5" y="397.3" font-family="Liberation Sans, sans-serif" font-size="12" fill="#131722" font-weight="normal" stroke="#131722" stroke-width="0.3" textLength="50.5" lengthAdjust="spacingAndGlyphs">QQE MOD</text>
<text x="71.9" y="397.3" font-family="Liberation Sans, sans-serif" font-size="12" fill="#131722" font-weight="normal" stroke="#131722" stroke-width="0.3" textLength="254.7" lengthAdjust="spacingAndGlyphs">(6, 5, 3, 3, close, 6, 5, 1.61, 3, close, 50, 0.35)</text>
<text x="364.5" y="397.9" font-family="Liberation Sans, sans-serif" font-size="12" fill="#5f626d" font-weight="normal" stroke="#5f626d" stroke-width="0.3" textLength="22.5" lengthAdjust="spacingAndGlyphs">−9.1</text>
<text x="395.2" y="397.9" font-family="Liberation Sans, sans-serif" font-size="12" fill="#5f626d" font-weight="normal" stroke="#5f626d" stroke-width="0.3" textLength="10.7" lengthAdjust="spacingAndGlyphs">∅</text>
<text x="413.6" y="397.9" font-family="Liberation Sans, sans-serif" font-size="12" fill="#ff0062" font-weight="normal" stroke="#ff0062" stroke-width="0.3" textLength="22.9" lengthAdjust="spacingAndGlyphs">−9.1</text>
<text x="845.0" y="117.9" font-family="Liberation Sans, sans-serif" font-size="15.9" fill="#f23645" font-weight="normal" stroke="#f23645" stroke-width="0.15" textLength="122.3" lengthAdjust="spacingAndGlyphs">Resisitance Level</text>
<text x="862.5" y="260.6" font-family="Liberation Sans, sans-serif" font-size="15.6" fill="#f23645" font-weight="normal" stroke="#f23645" stroke-width="0.15" textLength="99.0" lengthAdjust="spacingAndGlyphs">Support Level</text>
<text x="1218.0" y="47.8" font-family="Liberation Sans, sans-serif" font-size="12.6" fill="#131722" font-weight="normal" stroke="#131722" stroke-width="0.3" textLength="21.3" lengthAdjust="spacingAndGlyphs">USD</text>
<rect x="1209.5" y="30.5" width="57.5" height="26" rx="5" fill="none" stroke="#e9e9ec" stroke-width="1"/>
<text x="74.4" y="501" font-family="Liberation Sans, sans-serif" font-size="12.6" fill="#131722" font-weight="normal" stroke="#131722" stroke-width="0.6" textLength="21.6" lengthAdjust="spacingAndGlyphs">Aug</text>
<text x="364.4" y="501" font-family="Liberation Sans, sans-serif" font-size="12.6" fill="#131722" font-weight="normal" stroke="#131722" stroke-width="0.6" textLength="20.6" lengthAdjust="spacingAndGlyphs">Sep</text>
<text x="645.0" y="501" font-family="Liberation Sans, sans-serif" font-size="12.6" fill="#131722" font-weight="normal" stroke="#131722" stroke-width="0.6" textLength="20.0" lengthAdjust="spacingAndGlyphs">Oct</text>
<text x="933.3" y="501" font-family="Liberation Sans, sans-serif" font-size="12.6" fill="#131722" font-weight="normal" stroke="#131722" stroke-width="0.6" textLength="22.1" lengthAdjust="spacingAndGlyphs">Nov</text>
<path d="M12,533 H23.8 V548 H18 V539 H12 Z" fill="#0f0f0f"/><circle cx="29" cy="536" r="2.8" fill="#0f0f0f"/><path d="M35.3,533 H42 L35.8,548 H29 Z" fill="#0f0f0f"/>
<text x="48.6" y="547.8" font-family="Liberation Sans, sans-serif" font-size="21.5" fill="#0f0f0f" font-weight="bold" stroke="#0f0f0f" stroke-width="0" textLength="121.7" lengthAdjust="spacingAndGlyphs">TradingView</text>
</svg>
</body></html>
